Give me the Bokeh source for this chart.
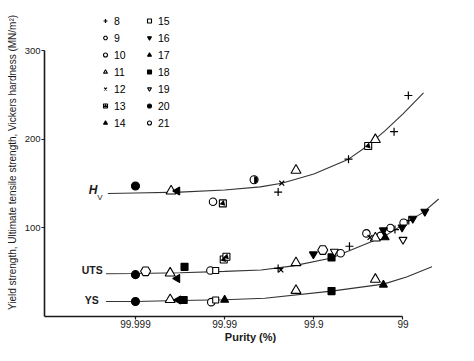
import math
from bokeh.plotting import figure
from bokeh.models import Range1d, FixedTicker, Legend, LegendItem, Label
from bokeh.embed import file_html
from bokeh.resources import INLINE

FONT = "Liberation Sans"

# ---- curves: impurity (%) = 100 - purity, value (MN/m^2) ----
hv_imp = [0.00049, 0.001, 0.00316, 0.01, 0.0251, 0.0437, 0.1, 0.245, 0.398, 0.631, 1.0, 1.698]
hv_val = [139, 139.5, 140.5, 143, 146.5, 150.6, 161, 177.8, 192.7, 210, 229, 252.6]

uts_imp = [0.000468, 0.001, 0.00316, 0.01, 0.0257, 0.0589, 0.158, 0.316, 0.603, 1.698, 2.512]
uts_val = [48.3, 48.5, 49.5, 51, 52.6, 57.2, 66.1, 78.5, 90, 117.9, 132.8]

ys_imp = [0.000468, 0.001, 0.00316, 0.01, 0.0282, 0.158, 0.603, 1.096, 2.113]
ys_val = [16.9, 17, 18, 19, 20.7, 28.7, 36.6, 44.7, 56.1]

# ---- points, by reference number ----
m8_imp = [0.0398, 0.245, 0.794, 1.148, 0.0398, 0.251, 0.813, 1.161]
m8_val = [140.6, 177.8, 208.8, 249.7, 54.3, 79.4, 98.2, 108.6]
m9_imp = [0.0013, 0.126]
m9_val = [51.1, 75.1]
m10_imp = [0.00741, 0.00692, 0.200, 0.389, 0.562, 0.724, 1.016, 0.00708]
m10_val = [129.6, 51.9, 71.4, 93.9, 91.1, 100, 106, 16.2]
m11_imp = [0.00251, 0.0631, 0.490, 0.00245, 0.0631, 0.490, 0.00245, 0.0631, 0.490]
m11_val = [141.7, 165.2, 199.8, 49, 60.7, 88.6, 19, 29.4, 41.9]
m12_imp = [0.0437, 0.0427, 0.427]
m12_val = [150.6, 52.6, 89.3]
m13_imp = [0.00955, 0.407, 0.00977, 0.01047]
m13_val = [127.8, 192.7, 64.4, 67.5]
m14_imp = [0.00295, 0.00295, 0.00302]
m14_val = [141.7, 43, 18.7]
m15_imp = [0.00794, 0.00794]
m15_val = [51.9, 18.7]
m16_imp = [0.0989, 0.603, 0.977, 1.288, 1.758]
m16_val = [70.4, 97.5, 100.7, 110.7, 118.5]
m17_imp = [0.631, 0.01, 0.603]
m17_val = [89.3, 18.7, 35.8]
m18_imp = [0.00355, 0.158, 0.00347, 0.158]
m18_val = [56.1, 66.8, 18.7, 28.7]
m19_imp = [0.170, 1.0]
m19_val = [73.3, 86.8]
m20_imp = [0.001, 0.001, 0.001]
m20_val = [147.4, 47.3, 16.9]
m21_imp = [0.0214]
m21_val = [154.5]

x_ticks = [0.001, 0.01, 0.1, 1]
x_tick_labels = ["99.999", "99.99", "99.9", "99"]
y_ticks = [100, 200, 300]

p = figure(width=458, height=345, x_axis_type="log",
           x_range=Range1d(10 ** -4.02, 10 ** 0.60), y_range=Range1d(0, 348),
           output_backend="svg", toolbar_location=None,
           min_border_left=44, min_border_right=2, min_border_top=8, min_border_bottom=27)
p.xgrid.visible = False
p.ygrid.visible = False
p.outline_line_color = None

for ax in (p.xaxis[0], p.yaxis[0]):
    ax.axis_line_width = 1.6
    ax.axis_line_color = "#1a1a1a"
    ax.major_tick_out = 3
    ax.major_tick_in = 0
    ax.major_tick_line_width = 1.2
    ax.major_tick_line_color = "#1a1a1a"
    ax.minor_tick_out = 0
    ax.minor_tick_in = 0
    ax.major_label_text_font = FONT
    ax.major_label_text_color = "#1a1a1a"
    ax.axis_label_text_font = FONT
    ax.axis_label_text_color = "#1a1a1a"

p.xaxis.ticker = FixedTicker(ticks=x_ticks, minor_ticks=[])
p.xaxis.major_label_overrides = dict(zip(x_ticks, x_tick_labels))
p.xaxis.bounds = (10 ** -4.02, 1)
p.xaxis.major_label_text_font_size = "10px"
p.xaxis.major_label_standoff = 0
p.xaxis.axis_label = "Purity (%)"
p.xaxis.axis_label_text_font_size = "11px"
p.xaxis.axis_label_text_font_style = "bold"
p.xaxis.axis_label_standoff = 0

p.yaxis.ticker = FixedTicker(ticks=y_ticks, minor_ticks=[])
p.yaxis.bounds = (0, 300)
p.yaxis.major_label_text_font_size = "9.5px"
p.yaxis.major_label_standoff = 1
p.yaxis.axis_label = "Yield strength, Ultimate tensile strength, Vickers hardness (MN/m\u00b2)"
p.yaxis.axis_label_text_font_size = "10px"
p.yaxis.axis_label_text_font_style = "normal"
p.yaxis.axis_label_standoff = 4

for xs, ys in ((hv_imp, hv_val), (uts_imp, uts_val), (ys_imp, ys_val)):
    p.line(xs, ys, line_color="#333333", line_width=1.1)

K = "black"
W = "white"

def sc(xs, ys, marker, size, fill, angle=0.0, lw=1.1):
    return p.scatter(xs, ys, marker=marker, size=size, fill_color=fill,
                     line_color=K, line_width=lw, angle=angle)

r8 = sc(m8_imp, m8_val, "cross", 8, W, lw=1.2)
r9 = sc(m9_imp, m9_val, "hex", 10, W)
r10 = sc(m10_imp, m10_val, "circle", 7.5, W)
r11 = sc(m11_imp, m11_val, "triangle", 10, W)
r12 = sc(m12_imp, m12_val, "x", 7, W, lw=1.2)
r13a = sc(m13_imp, m13_val, "square", 7, W)
r13b = p.scatter(m13_imp, m13_val, marker="triangle", size=6, fill_color=K,
                 line_color=None, angle=-3 * math.pi / 4)
r14 = sc(m14_imp, m14_val, "triangle", 8, K, angle=math.pi / 2)
r15 = sc(m15_imp, m15_val, "square", 6, W)
r16 = sc(m16_imp, m16_val, "inverted_triangle", 8, K)
r17 = sc(m17_imp, m17_val, "triangle", 8, K)
r18 = sc(m18_imp, m18_val, "square", 7, K)
r19 = sc(m19_imp, m19_val, "inverted_triangle", 8, W)
r20 = sc(m20_imp, m20_val, "circle", 8, K)
r21a = sc(m21_imp, m21_val, "circle", 8, W)
p.wedge(m21_imp, m21_val, radius=3.6, radius_units="screen",
        start_angle=-math.pi / 2, end_angle=math.pi / 2, fill_color=K, line_color=None)
r21leg = p.scatter([], [], marker="triangle", size=6, fill_color=K, line_color=None,
                   angle=-math.pi / 2)

legend_renderers = [[r8], [r9], [r10], [r11], [r12], [r13a, r13b], [r14],
                    [r15], [r16], [r17], [r18], [r19], [r20], [r21a, r21leg]]
legend_labels = [str(n) for n in range(8, 22)]
items = [LegendItem(label=lab, renderers=rs) for lab, rs in zip(legend_labels, legend_renderers)]

legend = Legend(items=items, location=(56, 187), ncols=2, orientation="vertical",
                border_line_color=None, background_fill_alpha=0, padding=0, margin=0,
                spacing=4, glyph_width=10, glyph_height=13, label_height=13,
                label_width=26, label_standoff=4, label_text_font=FONT,
                label_text_font_size="10.5px", label_text_color="#000000")
p.add_layout(legend)

lab_kw = dict(text_font=FONT, text_color="#1a1a1a", text_baseline="middle")
p.add_layout(Label(x=0.00030, y=143, text="H", text_font_size="12px",
                   text_font_style="bold italic", **lab_kw))
p.add_layout(Label(x=0.000372, y=134, text="V", text_font_size="8px", **lab_kw))
p.add_layout(Label(x=0.00025, y=53, text="UTS", text_font_size="10.5px",
                   text_font_style="bold", **lab_kw))
p.add_layout(Label(x=0.00027, y=18.7, text="YS", text_font_size="10.5px",
                   text_font_style="bold", **lab_kw))

open("out.html", "w").write(file_html(p, INLINE))
